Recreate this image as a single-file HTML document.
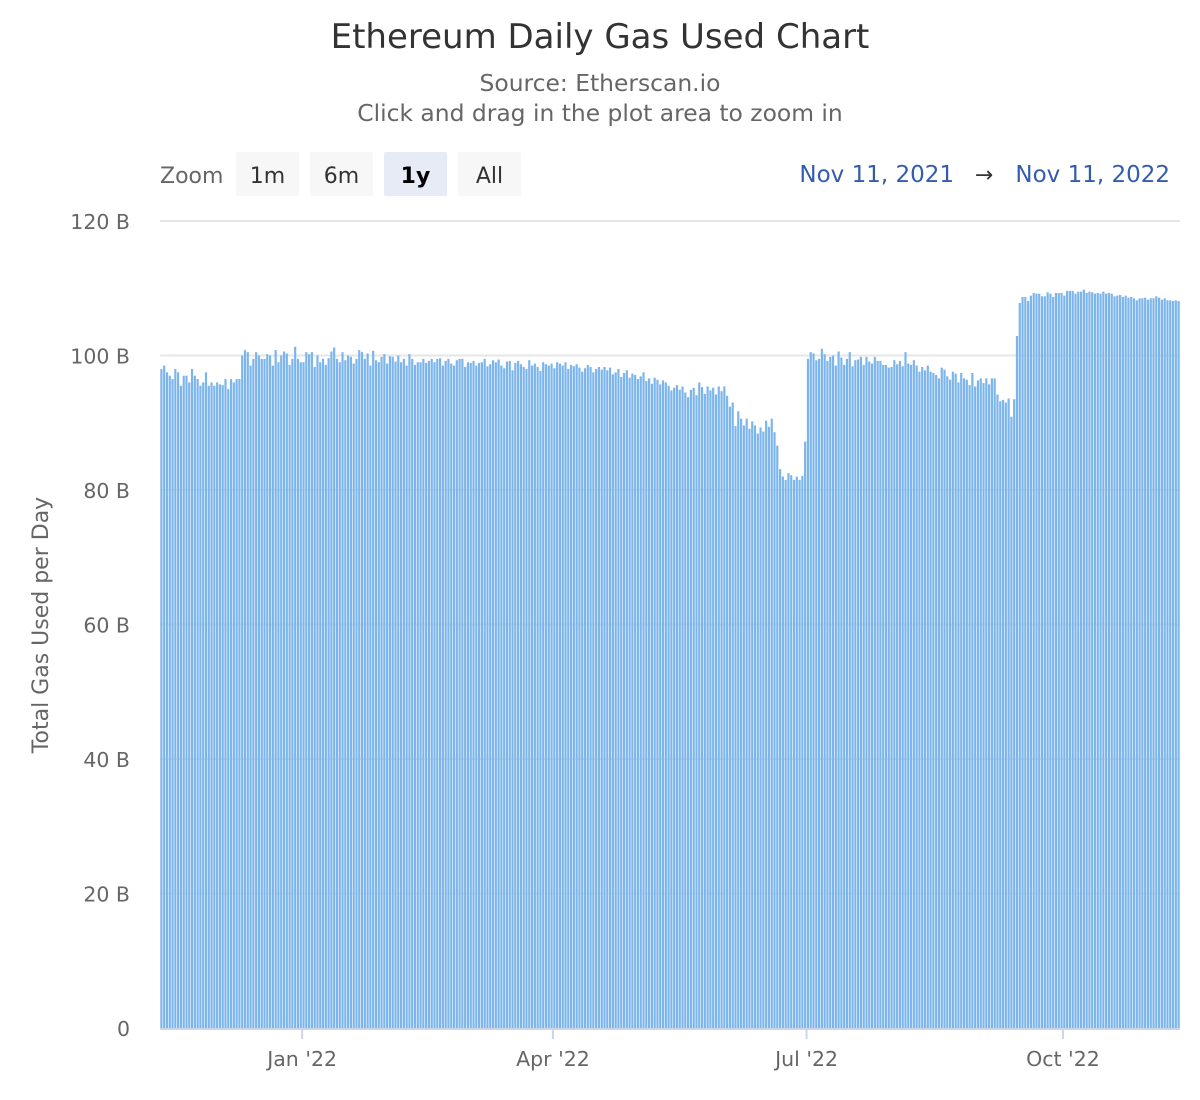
<!DOCTYPE html>
<html><head><meta charset="utf-8">
<style>
html,body{margin:0;padding:0;background:#fff;}
svg{display:block;font-family:"DejaVu Sans","Liberation Sans",sans-serif;}
</style></head>
<body>
<svg id="chart" width="1200" height="1100" viewBox="0 0 1200 1100" xmlns="http://www.w3.org/2000/svg">
<text x="600" y="48" text-anchor="middle" font-size="34" fill="#333">Ethereum Daily Gas Used Chart</text>
<text x="600" y="91" text-anchor="middle" font-size="23.4" fill="#666">Source: Etherscan.io</text>
<text x="600" y="121" text-anchor="middle" font-size="23.4" fill="#666">Click and drag in the plot area to zoom in</text>
<text x="160" y="183" font-size="22" fill="#666">Zoom</text>
<g><rect x="236" y="152" width="63" height="44" rx="2" fill="#f7f7f7"/><text x="267.5" y="183" text-anchor="middle" font-size="22" fill="#333">1m</text></g>
<g><rect x="310" y="152" width="63" height="44" rx="2" fill="#f7f7f7"/><text x="341.5" y="183" text-anchor="middle" font-size="22" fill="#333">6m</text></g>
<g><rect x="384" y="152" width="63" height="44" rx="2" fill="#e6ebf5"/><text x="415.5" y="183" text-anchor="middle" font-size="22" font-weight="bold" fill="#000">1y</text></g>
<g><rect x="458" y="152" width="63" height="44" rx="2" fill="#f7f7f7"/><text x="489.5" y="183" text-anchor="middle" font-size="22" fill="#333">All</text></g>
<text x="954" y="182" text-anchor="end" font-size="23" fill="#335cad">Nov 11, 2021</text>
<text x="984" y="182" text-anchor="middle" font-size="22" fill="#333">→</text>
<text x="1170" y="182" text-anchor="end" font-size="23" fill="#335cad">Nov 11, 2022</text>
<text transform="translate(48,625) rotate(-90)" text-anchor="middle" font-size="22" fill="#666">Total Gas Used per Day</text>
<g id="grid"></g>
<g id="bars"></g>
<g id="xaxis"></g>
</svg>
<script>
const yTicks=[0,20,40,60,80,100,120];
const yTickLabels=["0","20 B","40 B","60 B","80 B","100 B","120 B"];
const xTickDays=[51,141,232,324];
const xTickLabels=["Jan '22","Apr '22","Jul '22","Oct '22"];
const segA=[98,98.5,97.5,97,96.5,98,97.5,95.5,97,97,96,98,97,96.5,95.5,96,97.5,95.5,96,95.5,96,95.7,95.6,96.5,95,96.5,96,96.5,96.5];
const segB=[100,100.8,100.5,98.5,99.5,100.5,100,99.5,99.5,100.2,
100,98.5,100.8,99,100,100.6,100.3,98.6,99.5,101.3,
99.5,99,99,100.5,100.2,100.5,98.3,100,99,99.5,
98.6,99.6,100.6,101.2,99.5,99,100.5,99.3,100,99.8,
98.8,99.5,100.8,100.5,99.5,100.3,98.5,100.7,99.3,99,
99.8,100.2,98.8,99.9,99.8,99.1,100,99,99.5,98.5,
100.2,99.5,98.6,99,99,99.5,98.9,99.2,99.5,99,
99.5,99.6,98.5,99.2,99.5,98.8,98.5,99.3,99.5,99.5,
98.3,99,98.9,99.2,98.5,98.9,99,99.5,98.4,98.7,
99.3,99,99.4,98.5,98.1,99.1,99.2,97.8,98.9,99.2,
98.7,98.3,98,99.3,98.5,98.8,98.3,97.7,99.0,98.7,
98.5,98.8,98.1];
const segC=[99,98.8,98.5,99,98,98.6,98.4,98.7,98.2,97.6,98.1,98.6,98.3,97.5,98,98.3,97.9,98.3,97.8,98.2,
97.2,97.5,98,96.8,97.4,97.8,96.7,97.3,97.1,96.5,96.9,97.5,96.2,96.6,95.8,96.7,96.4,95.7,96.3,96,
95.5,94.8,95.2,95.6,94.9,95.4,94.5,93.8,94.9,95.2,94.1,96,95.3,94.3,95.4,94.8,95.2,94.2,95.4,94.7,
95.4,94,92.4,93];
const segD=[89.5,91.7,90.6,89.6,90.6,89.1,90.2,89.6,88.4,89.3,88.7,90.3,89.4,90.6,88.6];
const segE=[86.6,83.1,82,81.5,82.5,82.2,81.5,82,81.5,82.1,87.2];
const segF=[99.5,100.5,100.3,99.3,99.5,101,100.2,99.2,99.8,100,98.5,100.6,99.7,98.6,99.5,100.5,98.4,99.3,99.4,99.8,
98.6,99.8,99.1,98.8,99.8,99.2,99.2,98.6,98.6,98.2,98.3,99.3,98.7,99.2,98.4,100.5,98.8,98.6,99.3,98.5,
97.6,98.3,97.8,98.5,97.6,97.4,97.1,96.6,98.2,97.9,96.9,96.4,97.6,97.3,96,97.4,96.6,96.4,95.6,97.4,
95.4,96.3,96.6,95.9,96.6,95.7,96.6,96.6];
const segG=[94.2,93.2,93.4,93,93.6,90.9,93.5];
const segH=[102.9,107.8,108.7,108.7,108.1,108.9,109.3,109.2,109.2,108.8,108.8,109.4,109.2,108.7,109.3,109.3,109.3,108.9,109.6,109.6,109.6,
109.2,109.5,109.5,109.8,109.3,109.5,109.4,109.2,109.3,109.2,109.5,109.2,109.3,109.2,108.8,108.9,109.0,108.7,108.9,108.6,
108.7,108.5,108.2,108.5,108.5,108.6,108.3,108.5,108.5,108.8,108.6,108.3,108.5,108.2,108.2,108.1,108.2,108.1];
const gasValues=[].concat(segA,segB,segC,segD,segE,segF,segG,segH);

const NS="http://www.w3.org/2000/svg";
const plotL=160,plotR=1180,plotT=221,plotB=1028;
const yMax=120;
const n=gasValues.length;
const step=(plotR-plotL)/n;
function yPos(v){return plotB-(v/yMax)*(plotB-plotT);}
function xPos(i){return plotL+i*step;}
const grid=document.getElementById('grid');
yTicks.forEach((t,k)=>{
  if(t>0){
    const l=document.createElementNS(NS,'line');
    
    
    l.setAttribute('x1',plotL);l.setAttribute('x2',plotR);
    l.setAttribute('y1',yPos(t));l.setAttribute('y2',yPos(t));
    l.setAttribute('stroke','#e6e6e6');l.setAttribute('stroke-width','2');
    grid.appendChild(l);
  }
  const tx=document.createElementNS(NS,'text');
  
  
  tx.setAttribute('x',130);tx.setAttribute('y',yPos(t)+8);
  tx.setAttribute('text-anchor','end');tx.setAttribute('font-size','20.5');tx.setAttribute('fill','#666');
  tx.textContent=yTickLabels[k];
  grid.appendChild(tx);
});
const bars=document.getElementById('bars');
gasValues.forEach((v,i)=>{
  const r=document.createElementNS(NS,'rect');
  
  
  r.setAttribute('x',xPos(i)+0.3);
  r.setAttribute('width',Math.max(step-0.6,1));
  r.setAttribute('y',yPos(v));
  r.setAttribute('height',plotB-yPos(v));
  r.setAttribute('fill','#7cb5ec');
  bars.appendChild(r);
});
const xa=document.getElementById('xaxis');
const al=document.createElementNS(NS,'line');


al.setAttribute('x1',plotL);al.setAttribute('x2',plotR);al.setAttribute('y1',plotB+1);al.setAttribute('y2',plotB+1);
al.setAttribute('stroke','#ccd6eb');al.setAttribute('stroke-width','2');
xa.appendChild(al);
xTickDays.forEach((d,k)=>{
  const x=xPos(d);
  const tk=document.createElementNS(NS,'line');
  
  
  tk.setAttribute('x1',x);tk.setAttribute('x2',x);tk.setAttribute('y1',plotB);tk.setAttribute('y2',plotB+11);
  tk.setAttribute('stroke','#ccd6eb');tk.setAttribute('stroke-width','2');
  xa.appendChild(tk);
  const tx=document.createElementNS(NS,'text');
  
  
  tx.setAttribute('x',x);tx.setAttribute('y',1066);
  tx.setAttribute('text-anchor','middle');tx.setAttribute('font-size','20.5');tx.setAttribute('fill','#666');
  tx.textContent=xTickLabels[k];
  xa.appendChild(tx);
});
</script>
</body></html>
